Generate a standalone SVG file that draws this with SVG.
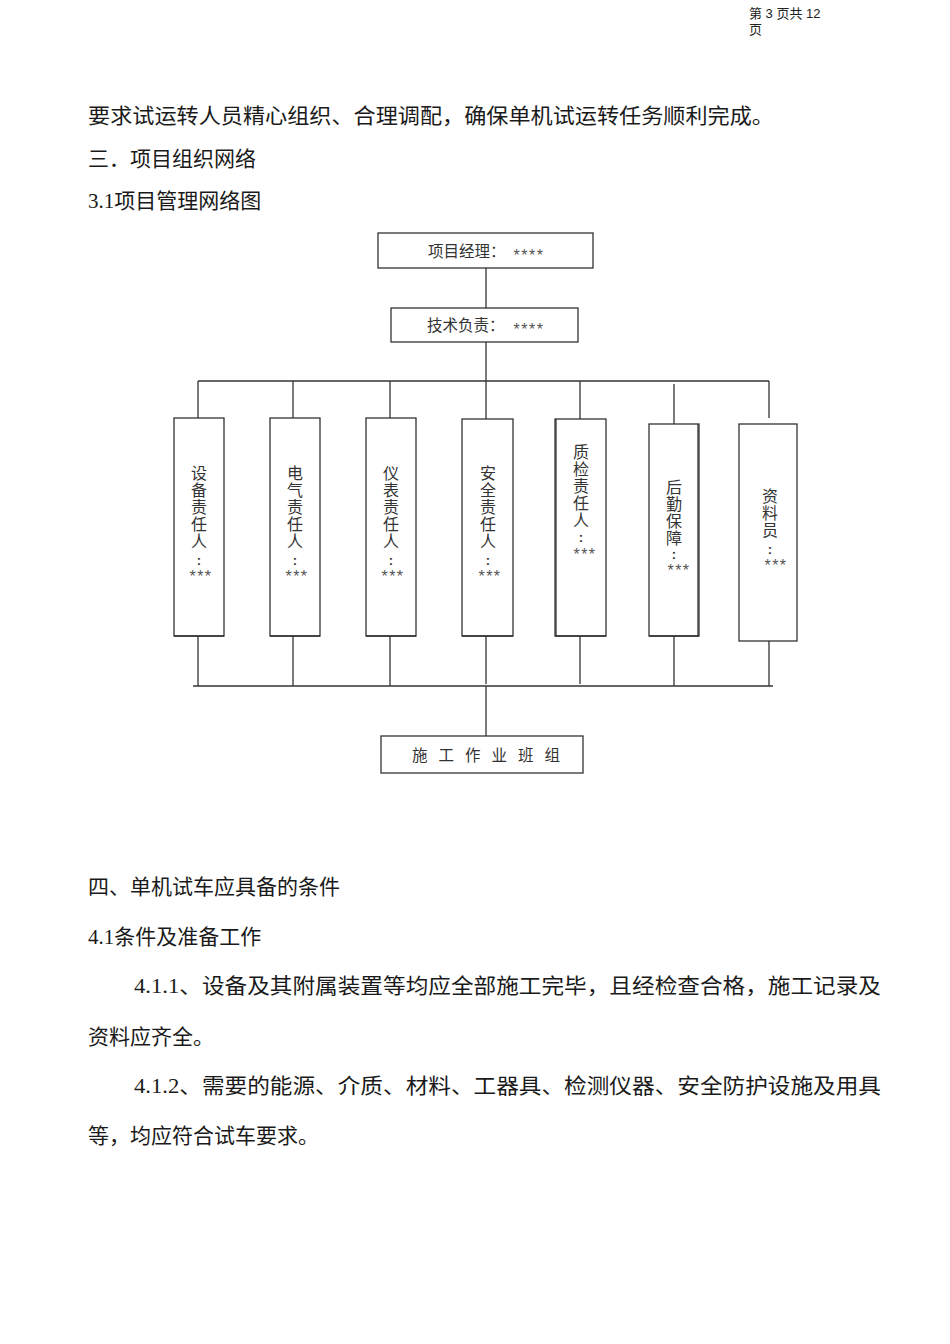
<svg xmlns="http://www.w3.org/2000/svg" width="950" height="1344" viewBox="0 0 950 1344">
<style>
.body{font-family:"Liberation Serif","Noto Sans CJK SC",serif;font-size:21px;fill:#1a1a1a}
.hdr{font-family:"Liberation Sans","Noto Sans CJK SC",sans-serif;font-size:13px;fill:#222}
.box{fill:#fff;stroke:#333;stroke-width:1.3}
.lbl{font-family:"Liberation Serif","Noto Sans CJK SC",serif;font-size:15.5px;fill:#333}
.vl{font-family:"Liberation Serif","Noto Sans CJK SC",serif;font-size:16px;fill:#333;text-anchor:middle}
.co{font-family:"Liberation Sans",sans-serif;font-size:13px;font-weight:bold;fill:#333;text-anchor:middle}
.st{font-family:"Liberation Sans",sans-serif;font-size:16px;fill:#555;text-anchor:middle;letter-spacing:1.5px}
.ln{stroke:#333;stroke-width:1.3;fill:none}
</style>
<rect width="950" height="1344" fill="#fff"/>
<text class="hdr" x="749" y="18">第 3 页共 12</text>
<text class="hdr" x="749" y="34">页</text>

<text class="body" x="88" y="123" textLength="686" lengthAdjust="spacingAndGlyphs">要求试运转人员精心组织、合理调配，确保单机试运转任务顺利完成。</text>
<text class="body" x="88" y="166">三．项目组织网络</text>
<text class="body" x="88" y="208">3.1项目管理网络图</text>

<g id="connectors">
<line class="ln" x1="486" y1="268" x2="486" y2="308"/>
<line class="ln" x1="486" y1="342" x2="486" y2="381"/>
<line class="ln" x1="198" y1="381" x2="769" y2="381"/>
<line class="ln" x1="198" y1="381" x2="198" y2="418"/>
<line class="ln" x1="293" y1="381" x2="293" y2="418"/>
<line class="ln" x1="390" y1="381" x2="390" y2="418"/>
<line class="ln" x1="486" y1="381" x2="486" y2="419"/>
<line class="ln" x1="580" y1="381" x2="580" y2="419"/>
<line class="ln" x1="674" y1="384" x2="674" y2="424"/>
<line class="ln" x1="769" y1="381" x2="769" y2="418"/>
<line class="ln" x1="198" y1="636" x2="198" y2="686"/>
<line class="ln" x1="293" y1="636" x2="293" y2="686"/>
<line class="ln" x1="390" y1="636" x2="390" y2="686"/>
<line class="ln" x1="486" y1="636" x2="486" y2="684"/>
<line class="ln" x1="580" y1="636" x2="580" y2="684"/>
<line class="ln" x1="674" y1="636" x2="674" y2="686"/>
<line class="ln" x1="769" y1="641" x2="769" y2="686"/>
<line class="ln" x1="193" y1="686" x2="773" y2="686" stroke-width="1.6"/>
<line class="ln" x1="486" y1="686" x2="486" y2="736"/>
</g>

<g id="n-pm">
<rect class="box" x="378" y="233" width="215" height="35"/>
<text class="lbl" x="428" y="257">项目经理：</text>
<text class="st" x="529" y="261">****</text>
</g>
<g id="n-tech">
<rect class="box" x="391" y="308" width="187" height="34"/>
<text class="lbl" x="427" y="331">技术负责：</text>
<text class="st" x="529" y="335">****</text>
</g>

<g id="n-equip">
<rect class="box" x="174" y="418" width="50" height="218"/>
<line class="ln" x1="174" y1="636" x2="224" y2="636" stroke-width="2.2"/>
<text class="vl" x="199" y="479">设</text><text class="vl" x="199" y="496">备</text><text class="vl" x="199" y="513">责</text><text class="vl" x="199" y="530">任</text><text class="vl" x="199" y="547">人</text>
<text class="co" x="199" y="565">:</text>
<text class="st" x="201" y="582">***</text>
</g>
<g id="n-elec">
<rect class="box" x="270" y="418" width="50" height="218"/>
<line class="ln" x1="270" y1="636" x2="320" y2="636" stroke-width="2.2"/>
<text class="vl" x="295" y="479">电</text><text class="vl" x="295" y="496">气</text><text class="vl" x="295" y="513">责</text><text class="vl" x="295" y="530">任</text><text class="vl" x="295" y="547">人</text>
<text class="co" x="295" y="565">:</text>
<text class="st" x="297" y="582">***</text>
</g>
<g id="n-inst">
<rect class="box" x="366" y="418" width="50" height="218"/>
<line class="ln" x1="366" y1="636" x2="416" y2="636" stroke-width="2.2"/>
<text class="vl" x="391" y="479">仪</text><text class="vl" x="391" y="496">表</text><text class="vl" x="391" y="513">责</text><text class="vl" x="391" y="530">任</text><text class="vl" x="391" y="547">人</text>
<text class="co" x="391" y="565">:</text>
<text class="st" x="393" y="582">***</text>
</g>
<g id="n-safe">
<rect class="box" x="462" y="419" width="51" height="217"/>
<line class="ln" x1="462" y1="636" x2="513" y2="636" stroke-width="2.2"/>
<text class="vl" x="488" y="479">安</text><text class="vl" x="488" y="496">全</text><text class="vl" x="488" y="513">责</text><text class="vl" x="488" y="530">任</text><text class="vl" x="488" y="547">人</text>
<text class="co" x="488" y="565">:</text>
<text class="st" x="490" y="582">***</text>
</g>
<g id="n-qc">
<rect class="box" x="555" y="419" width="51" height="217"/>
<line class="ln" x1="556" y1="419" x2="556" y2="636" stroke-width="2.2"/>
<line class="ln" x1="555" y1="636" x2="606" y2="636" stroke-width="2.2"/>
<text class="vl" x="581" y="458">质</text><text class="vl" x="581" y="475">检</text><text class="vl" x="581" y="492">责</text><text class="vl" x="581" y="509">任</text><text class="vl" x="581" y="526">人</text>
<text class="co" x="581" y="542">:</text>
<text class="st" x="585" y="560">***</text>
</g>
<g id="n-log">
<rect class="box" x="649" y="424" width="50" height="212"/>
<line class="ln" x1="649" y1="636" x2="699" y2="636" stroke-width="2.2"/>
<line class="ln" x1="698" y1="424" x2="698" y2="636" stroke-width="2"/>
<text class="vl" x="674" y="493">后</text><text class="vl" x="674" y="510">勤</text><text class="vl" x="674" y="527">保</text><text class="vl" x="674" y="544">障</text>
<text class="co" x="674" y="559">:</text>
<text class="st" x="679" y="576">***</text>
</g>
<g id="n-doc">
<rect class="box" x="739" y="424" width="58" height="217"/>
<text class="vl" x="770" y="502">资</text><text class="vl" x="770" y="519">料</text><text class="vl" x="770" y="536">员</text>
<text class="co" x="770" y="554">:</text>
<text class="st" x="776" y="571">***</text>
</g>

<g id="n-team">
<rect class="box" x="381" y="736" width="202" height="37"/>
<text class="lbl" x="412" y="761" letter-spacing="11">施工作业班组</text>
</g>

<text class="body" x="88" y="894">四、单机试车应具备的条件</text>
<text class="body" x="88" y="944">4.1条件及准备工作</text>
<text class="body" x="134" y="993" textLength="747" lengthAdjust="spacingAndGlyphs">4.1.1、设备及其附属装置等均应全部施工完毕，且经检查合格，施工记录及</text>
<text class="body" x="88" y="1044">资料应齐全。</text>
<text class="body" x="134" y="1093" textLength="747" lengthAdjust="spacingAndGlyphs">4.1.2、需要的能源、介质、材料、工器具、检测仪器、安全防护设施及用具</text>
<text class="body" x="88" y="1143">等，均应符合试车要求。</text>
</svg>
